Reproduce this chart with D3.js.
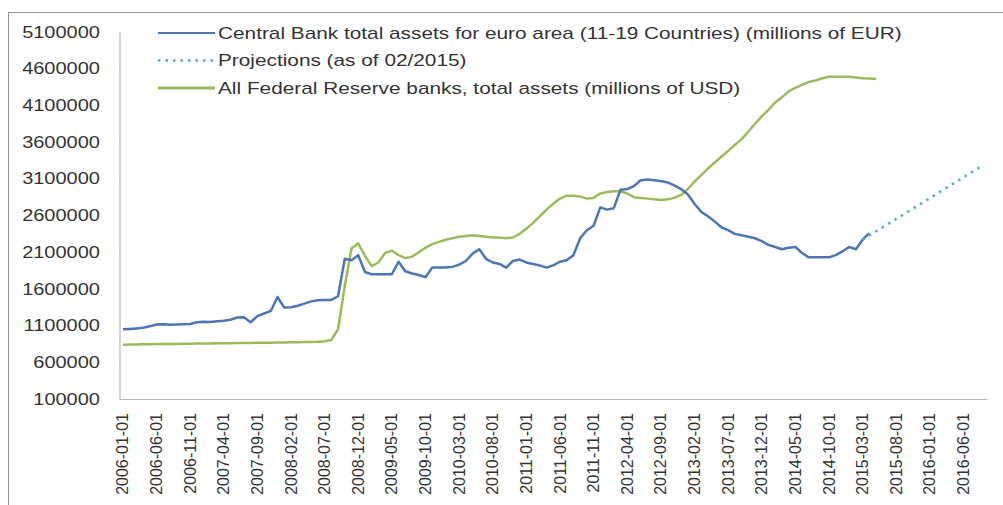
<!DOCTYPE html>
<html>
<head>
<meta charset="utf-8">
<script src="https://cdn.jsdelivr.net/npm/d3@7"></script>
<style>
  html, body { margin: 0; padding: 0; background: #fff; }
  svg { display: block; font-family: "Liberation Sans", Arial, sans-serif; }
</style>
</head>
<body>
<svg id="chart" width="1003" height="505"></svg>
<script>
// Monthly category range of the horizontal axis
const firstMonth = "2006-01";
const lastMonth = "2016-09";

// Category labels shown on the horizontal axis (every fifth month)
const tickLabels = [
  "2006-01-01", "2006-06-01", "2006-11-01", "2007-04-01", "2007-09-01",
  "2008-02-01", "2008-07-01", "2008-12-01", "2009-05-01", "2009-10-01",
  "2010-03-01", "2010-08-01", "2011-01-01", "2011-06-01", "2011-11-01",
  "2012-04-01", "2012-09-01", "2013-02-01", "2013-07-01", "2013-12-01",
  "2014-05-01", "2014-10-01", "2015-03-01", "2015-08-01", "2016-01-01",
  "2016-06-01"
];

// Value axis ticks
const yTicks = [100000, 600000, 1100000, 1600000, 2100000, 2600000,
                3100000, 3600000, 4100000, 4600000, 5100000];

// Eurosystem total assets, millions of EUR, monthly from 2006-01
const ecbAssets = [
  1050000, 1055000, 1062000, 1070000, 1090000, 1115000, 1118000, 1112000, 1115000, 1118000, 1122000, 1145000,
  1152000, 1150000, 1158000, 1165000, 1180000, 1210000, 1215000, 1145000, 1230000, 1265000, 1300000, 1490000,
  1345000, 1350000, 1370000, 1400000, 1430000, 1445000, 1450000, 1450000, 1500000, 2010000, 1990000, 2060000,
  1830000, 1800000, 1800000, 1800000, 1800000, 1970000, 1840000, 1810000, 1790000, 1760000, 1890000, 1890000,
  1890000, 1900000, 1930000, 1980000, 2080000, 2140000, 2010000, 1960000, 1940000, 1890000, 1980000, 2000000,
  1960000, 1940000, 1920000, 1890000, 1920000, 1970000, 1990000, 2060000, 2290000, 2400000, 2460000, 2710000,
  2680000, 2700000, 2950000, 2960000, 3000000, 3080000, 3090000, 3080000, 3070000, 3050000, 3010000, 2960000,
  2890000, 2760000, 2650000, 2590000, 2520000, 2440000, 2400000, 2350000, 2330000, 2310000, 2290000, 2250000,
  2200000, 2170000, 2140000, 2160000, 2170000, 2090000, 2030000, 2030000, 2030000, 2030000, 2060000, 2110000,
  2170000, 2140000, 2270000, 2360000
];

// Federal Reserve total assets, millions of USD, monthly from 2006-01
const fedAssets = [
  840000, 842000, 843000, 845000, 846000, 848000, 849000, 850000, 851000, 852000, 853000, 855000,
  856000, 857000, 858000, 859000, 860000, 862000, 863000, 864000, 866000, 867000, 868000, 870000,
  871000, 872000, 874000, 876000, 878000, 880000, 888000, 905000, 1050000, 1640000, 2150000, 2220000,
  2050000, 1910000, 1960000, 2090000, 2120000, 2060000, 2020000, 2040000, 2100000, 2160000, 2210000, 2240000,
  2270000, 2290000, 2310000, 2320000, 2330000, 2320000, 2310000, 2300000, 2300000, 2290000, 2300000, 2350000,
  2420000, 2500000, 2590000, 2680000, 2760000, 2830000, 2870000, 2870000, 2860000, 2830000, 2840000, 2900000,
  2920000, 2930000, 2930000, 2900000, 2850000, 2840000, 2830000, 2820000, 2810000, 2820000, 2840000, 2880000,
  2960000, 3060000, 3150000, 3240000, 3320000, 3400000, 3480000, 3560000, 3640000, 3740000, 3850000, 3950000,
  4040000, 4140000, 4210000, 4290000, 4340000, 4380000, 4420000, 4440000, 4470000, 4490000, 4490000, 4490000,
  4490000, 4480000, 4470000, 4465000, 4460000
];

// Projected Eurosystem balance sheet path (as of 02/2015)
const projectionMonths = ["2015-03", "2016-09"];
const projectionValues = [2270000, 3290000];

const seriesNames = [
  "Central Bank total assets for euro area (11-19 Countries) (millions of EUR)",
  "Projections (as of 02/2015)",
  "All Federal Reserve banks, total assets (millions of USD)"
];
const seriesColors = ["#4a76b6", "#4bacc6", "#9bbb59"];

const parseMonth = d3.utcParse("%Y-%m");
const fmtDay = d3.utcFormat("%Y-%m-01");
const categories = d3.utcMonth
  .range(parseMonth(firstMonth), d3.utcMonth.offset(parseMonth(lastMonth), 1))
  .map(fmtDay);

const svg = d3.select("#chart");
const textColor = "#333333";
const axisColor = "#b8b8b8";

// Outer chart frame
svg.append("path")
  .attr("d", "M8.5,505 V12.5 H1003")
  .attr("fill", "none")
  .attr("stroke", "#8f8f8f")
  .attr("stroke-width", 1);

const plot = { left: 119.5, right: 987, top: 32, bottom: 399 };

const x = d3.scaleBand().domain(categories).range([plot.left, plot.right]);
const cx = c => x(c) + x.bandwidth() / 2;
const y = d3.scaleLinear().domain([100000, 5100000]).range([plot.bottom, plot.top]);

// Axis lines
const yAxis = d3.axisLeft(y).tickValues(yTicks).tickSize(0).tickFormat("");
svg.append("g").attr("transform", `translate(${plot.left},0)`).call(yAxis)
  .call(g => g.select(".domain").attr("stroke", axisColor).attr("stroke-width", 1.2));

const xAxis = d3.axisBottom(x).tickValues(tickLabels).tickSize(0).tickFormat("");
svg.append("g").attr("transform", `translate(0,${plot.bottom})`).call(xAxis)
  .call(g => g.select(".domain").attr("stroke", axisColor).attr("stroke-width", 1.2));

// Value axis labels
svg.append("g").selectAll("g")
  .data(yTicks)
  .join("g")
  .attr("transform", d => `translate(100,${y(d)})`)
  .append("text")
  .attr("transform", "scale(1.25,1)")
  .attr("text-anchor", "end")
  .attr("dy", "0.35em")
  .attr("font-size", 16)
  .attr("fill", textColor)
  .text(d => d3.format("d")(d));

// Category labels, rotated
svg.append("g").selectAll("g")
  .data(tickLabels)
  .join("g")
  .attr("transform", d => `translate(${cx(d)},413) rotate(-90)`)
  .append("text")
  .attr("text-anchor", "end")
  .attr("dy", "0.35em")
  .attr("font-size", 16)
  .attr("fill", textColor)
  .text(d => d);

// Series lines
const line = d3.line().x(d => cx(d.month)).y(d => y(d.value));

const ecbData = ecbAssets.map((v, i) => ({ month: categories[i], value: v }));
const fedData = fedAssets.map((v, i) => ({ month: categories[i], value: v }));
const projData = projectionMonths.map((m, i) => ({ month: fmtDay(parseMonth(m)), value: projectionValues[i] }));

svg.append("path").datum(fedData)
  .attr("d", line).attr("fill", "none")
  .attr("stroke", seriesColors[2]).attr("stroke-width", 2.5)
  .attr("stroke-linejoin", "round");

svg.append("path").datum(ecbData)
  .attr("d", line).attr("fill", "none")
  .attr("stroke", seriesColors[0]).attr("stroke-width", 2.5)
  .attr("stroke-linejoin", "round");

svg.append("path").datum(projData)
  .attr("d", line).attr("fill", "none")
  .attr("stroke", seriesColors[1]).attr("stroke-width", 2.5)
  .attr("stroke-dasharray", "2.5 5");

// Legend
const legendRows = [
  { name: seriesNames[0], color: seriesColors[0], dash: null, width: 2 },
  { name: seriesNames[1], color: seriesColors[1], dash: "2.5 5", width: 2.5 },
  { name: seriesNames[2], color: seriesColors[2], dash: null, width: 3 }
];
const legend = svg.append("g").selectAll("g")
  .data(legendRows)
  .join("g")
  .attr("transform", (d, i) => `translate(158,${33 + i * 27.5})`);

legend.append("line")
  .attr("x1", 0).attr("x2", 57)
  .attr("stroke", d => d.color)
  .attr("stroke-width", d => d.width)
  .attr("stroke-dasharray", d => d.dash);

legend.append("text")
  .attr("transform", "translate(60,0) scale(1.3,1)")
  .attr("dy", "0.35em")
  .attr("font-size", 16)
  .attr("fill", textColor)
  .text(d => d.name);
</script>
</body>
</html>
